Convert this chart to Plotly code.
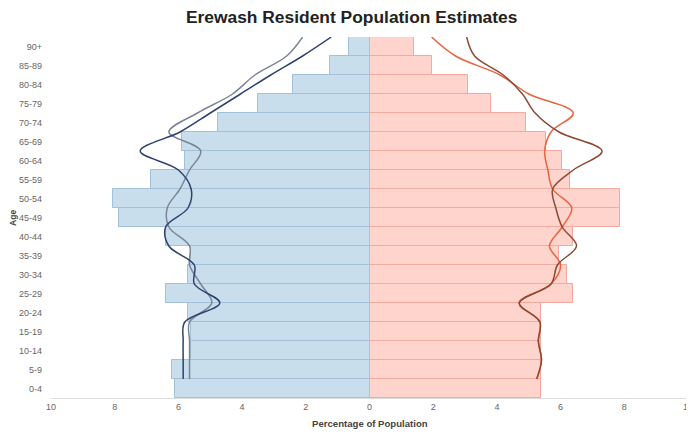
import plotly.graph_objects as go

ages = ["0-4", "5-9", "10-14", "15-19", "20-24", "25-29", "30-34", "35-39", "40-44",
        "45-49", "50-54", "55-59", "60-64", "65-69", "70-74", "75-79", "80-84", "85-89", "90+"]

male_pct = [6.1, 6.2, 5.6, 5.6, 5.7, 6.4, 5.7, 5.6, 6.4, 7.85, 8.05, 6.85, 5.8, 5.9, 4.75, 3.5, 2.4, 1.25, 0.65]
female_pct = [5.4, 5.4, 5.4, 5.4, 5.4, 6.4, 6.2, 5.95, 6.4, 7.85, 7.85, 6.3, 6.05, 5.55, 4.9, 3.8, 3.1, 1.97, 1.4]

male_line_a = [5.65, 5.65, 5.65, 5.65, 4.95, 5.3, 5.65, 5.65, 6.3, 6.35, 5.95, 5.65, 5.3, 6.3, 5.4, 4.3, 3.6, 2.6, 2.1]
male_line_b = [5.85, 5.85, 5.85, 5.8, 4.7, 5.5, 5.5, 6.3, 6.4, 5.7, 5.6, 6.0, 7.2, 5.95, 5.0, 4.05, 3.1, 2.1, 1.2]
female_line_a = [5.25, 5.4, 5.3, 5.35, 4.7, 5.7, 6.0, 5.65, 6.05, 6.35, 5.75, 5.6, 5.5, 5.7, 6.4, 5.0, 4.1, 2.7, 1.95]
female_line_b = [5.25, 5.4, 5.3, 5.35, 4.7, 5.7, 5.9, 6.5, 6.05, 5.85, 5.75, 6.4, 7.3, 5.95, 5.2, 4.8, 4.2, 3.3, 3.05]

xticks = [-10, -8, -6, -4, -2, 0, 2, 4, 6, 8, 10]
xtick_text = ["10", "8", "6", "4", "2", "0", "2", "4", "6", "8", "10"]

idx = list(range(len(ages)))
line_pos = [i + 0.5 for i in idx]

fig = go.Figure()
fig.add_trace(go.Bar(y=idx, x=[-v for v in male_pct], orientation="h", width=1,
                     marker=dict(color="rgba(190,216,234,0.85)", line=dict(color="#a3c1d9", width=1)),
                     name="Male", showlegend=False))
fig.add_trace(go.Bar(y=idx, x=female_pct, orientation="h", width=1,
                     marker=dict(color="rgba(255,205,196,0.85)", line=dict(color="#f2a99e", width=1)),
                     name="Female", showlegend=False))

fig.add_trace(go.Scatter(y=line_pos, x=[-v for v in male_line_a], mode="lines",
                         line=dict(color="#7c8597", width=1.5, shape="spline"), showlegend=False))
fig.add_trace(go.Scatter(y=line_pos, x=[-v for v in male_line_b], mode="lines",
                         line=dict(color="#2f4370", width=1.5, shape="spline"), showlegend=False))
fig.add_trace(go.Scatter(y=line_pos, x=female_line_a, mode="lines",
                         line=dict(color="#e8653f", width=1.5, shape="spline"), showlegend=False))
fig.add_trace(go.Scatter(y=line_pos, x=female_line_b, mode="lines",
                         line=dict(color="#8c4a35", width=1.5, shape="spline"), showlegend=False))

fig.update_layout(
    width=686, height=426,
    margin=dict(l=43, r=6, t=29, b=36, autoexpand=False),
    paper_bgcolor="white", plot_bgcolor="white",
    barmode="overlay", bargap=0,
    font=dict(family="Liberation Sans, Arial, sans-serif", color="#555"),
    title=dict(text="<b>Erewash Resident Population Estimates</b>", x=0.501, xanchor="center",
               y=0.979, yanchor="middle", font=dict(size=17.4, color="#222")),
    xaxis=dict(range=[-10, 10], tickvals=xticks, ticktext=xtick_text, showgrid=False,
               zeroline=False, showline=True, linecolor="#dddddd", linewidth=1,
               tickfont=dict(size=9, color="#666"), ticks="", automargin=False),
    yaxis=dict(range=[-0.5, 18.5], tickvals=idx, ticktext=ages, showgrid=False, zeroline=False,
               showline=False, tickfont=dict(size=9, color="#666"), ticks="",
               ticklabelstandoff=8, automargin=False),
    annotations=[
        dict(text="<b>Percentage of Population</b>", x=0.5, xref="paper", y=-0.072, yref="paper",
             yanchor="middle", showarrow=False, font=dict(size=9.6, color="#444")),
        dict(text="<b>Age</b>", x=-0.0606, xref="paper", y=0.5, yref="paper", textangle=-90,
             xanchor="center", yanchor="middle", showarrow=False, font=dict(size=8.5, color="#444")),
    ],
)

fig.write_html("out.html")
